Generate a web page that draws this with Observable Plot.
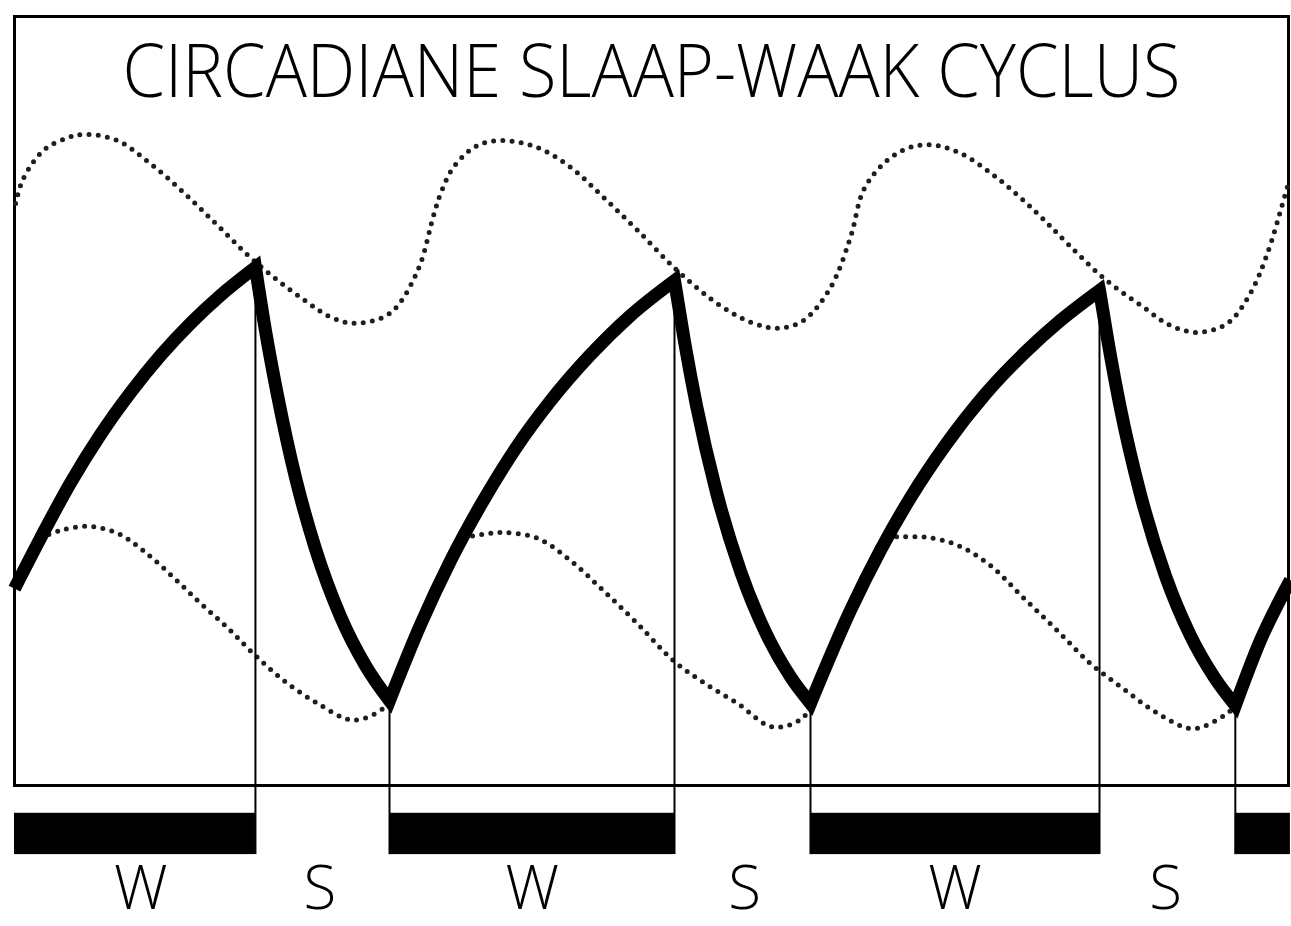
<!DOCTYPE html>
<html><head><meta charset="utf-8">
<script src="https://cdn.jsdelivr.net/npm/d3@7"></script>
<script src="https://cdn.jsdelivr.net/npm/@observablehq/plot@0.6"></script>
<style>html,body{margin:0;padding:0;background:#fff;} svg{display:block;}</style>
</head><body><div id="chart"></div>
<script>
const TITLE = "CIRCADIANE SLAAP-WAAK CYCLUS";

// Homeostatic sleep pressure (thick line): time in hours, level in %
const pressureT = [2.5, 3.98, 5.69, 7.40, 9.11, 10.82, 12.53, 14.24, 16.23, 16.80, 17.49, 18.51, 19.65, 21.08, 22.50, 23.87,
  25.63, 27.35, 29.06, 31.05, 33.04, 35.32, 37.60, 40.11, 40.68, 41.36, 42.50, 43.87, 45.29, 46.72, 47.86,
  50.14, 51.85, 53.56, 55.55, 57.83, 60.11, 62.10, 64.33, 64.84, 65.52, 66.66, 68.09, 69.51, 70.88, 72.07, 73.50, 75.21];
const pressureLevel = [26.7, 33.9, 41.8, 48.7, 54.7, 60.0, 64.6, 68.6, 72.6, 63.6, 54.3, 42.6, 32.4, 22.7, 15.7, 10.7,
  21.5, 30.7, 38.6, 46.7, 53.5, 60.1, 65.7, 70.7, 62.0, 52.9, 40.5, 29.2, 20.5, 14.1, 10.3,
  23.6, 32.2, 39.7, 47.2, 54.5, 60.5, 65.0, 69.3, 61.6, 52.5, 40.2, 28.5, 20.0, 14.0, 10.0, 19.3, 27.9];

// Upper circadian threshold (dotted)
const upperT = [2.56, 3.01, 4.15, 5.52, 6.55, 8.37, 10.25, 12.13, 14.07, 16.12, 18.80, 20.68, 22.05, 23.93,
  25.47, 26.38, 26.78, 27.52, 28.88, 30.37, 32.30, 34.18, 36.06, 38.00, 40.28, 42.73, 44.61, 45.98, 47.46,
  49.00, 50.14, 50.88, 52.02, 53.39, 54.70, 56.40, 58.68, 60.79, 62.50, 64.55, 66.83, 68.37, 69.91, 71.62,
  72.93, 73.90, 74.81, 75.10];
const upperLevel = [81.7, 85.3, 89.3, 91.1, 91.6, 90.7, 87.4, 83.3, 78.6, 73.6, 68.3, 65.3, 64.6, 66.1,
  72.1, 80.0, 83.1, 86.9, 90.0, 90.7, 89.7, 86.9, 82.6, 77.9, 72.1, 67.1, 64.6, 63.9, 65.0,
  69.7, 76.9, 83.6, 87.4, 89.6, 90.1, 88.9, 85.0, 80.3, 76.0, 71.1, 66.9, 64.3, 63.3, 64.6,
  68.9, 74.6, 82.1, 84.6];

// Lower circadian threshold (dotted, drawn in three pieces)
const lowerT = [3.98, 5.12, 6.66, 8.37, 9.85, 11.56, 13.10, 14.64, 16.12, 17.83, 19.77, 21.82, 23.53, 23.87,
  28.09, 29.06, 30.37, 32.30, 34.18, 36.06, 38.00, 40.05, 41.76, 43.70, 45.75, 47.46, 47.86,
  52.24, 53.16, 54.53, 56.24, 58.11, 59.99, 61.93, 63.81, 65.69, 67.63, 69.68, 71.62, 72.07];
const lowerLevel = [33.9, 35.0, 35.6, 34.6, 32.1, 28.3, 24.6, 21.1, 17.4, 13.6, 10.3, 7.9, 9.6, 10.7,
  34.0, 34.4, 34.7, 33.9, 30.7, 26.4, 21.7, 16.4, 13.3, 10.3, 6.9, 8.3, 10.3,
  34.1, 34.1, 34.0, 32.9, 30.0, 25.4, 20.7, 16.0, 12.4, 8.9, 6.7, 8.9, 10.0];
const lowerSeg = [1,1,1,1,1,1,1,1,1,1,1,1,1,1, 2,2,2,2,2,2,2,2,2,2,2,2,2, 3,3,3,3,3,3,3,3,3,3,3,3,3];

// Sleep onset / wake onset times (hours)
const sleepOnset = [16.23, 40.11, 64.33];
const wakeOnset = [23.87, 47.86, 72.07];

// W / S labels
const labelT = [9.7, 19.9, 32.0, 44.1, 56.1, 68.1];
const labelText = ["W", "S", "W", "S", "W", "S"];

// ---- build tables ----
const T0 = 2.5, T1 = 75.1, TEND = 75.21;
const pressure = pressureT.map((t, i) => ({t, v: pressureLevel[i]}));
const upper = upperT.map((t, i) => ({t, v: upperLevel[i]}));
const lower = lowerT.map((t, i) => ({t, v: lowerLevel[i], seg: lowerSeg[i]}));
const lookup = t => pressure.find(d => Math.abs(d.t - t) < 1e-6).v;
const switches = [...sleepOnset, ...wakeOnset].sort((a, b) => a - b).map(t => ({t, top: lookup(t)}));
const wakeBars = [[T0, sleepOnset[0]], [wakeOnset[0], sleepOnset[1]], [wakeOnset[1], sleepOnset[2]], [wakeOnset[2], TEND]]
  .map(([a, b]) => ({a, b}));
const labels = labelT.map((t, i) => ({t, label: labelText[i]}));

const BAND_TOP = -5.4, BAND_BOTTOM = -11.3;
const FONT = "'Open Sans', Lato, sans-serif";

// smooth cubic curve that keeps sharp corners at local extrema (peaks / troughs)
function cornerCurve(context) {
  let pts;
  const run = (r) => {
    const n = r.length;
    if (n === 2) { context.lineTo(r[1][0], r[1][1]); return; }
    const h = [], s = [];
    for (let i = 0; i < n - 1; ++i) { h[i] = r[i + 1][0] - r[i][0]; s[i] = (r[i + 1][1] - r[i][1]) / h[i]; }
    const m = new Array(n);
    for (let i = 1; i < n - 1; ++i) m[i] = (s[i - 1] * h[i] + s[i] * h[i - 1]) / (h[i - 1] + h[i]);
    m[0] = (3 * s[0] - m[1]) / 2;
    m[n - 1] = (3 * s[n - 2] - m[n - 2]) / 2;
    if (m[0] * s[0] < 0) m[0] = 0;
    if (m[n - 1] * s[n - 2] < 0) m[n - 1] = 0;
    for (let i = 0; i < n - 1; ++i) {
      const dx = h[i] / 3;
      context.bezierCurveTo(r[i][0] + dx, r[i][1] + m[i] * dx, r[i + 1][0] - dx, r[i + 1][1] - m[i + 1] * dx, r[i + 1][0], r[i + 1][1]);
    }
  };
  return {
    areaStart() {}, areaEnd() {},
    lineStart() { pts = []; },
    point(x, y) { pts.push([+x, +y]); },
    lineEnd() {
      if (!pts.length) return;
      context.moveTo(pts[0][0], pts[0][1]);
      let cur = [pts[0]];
      for (let i = 1; i < pts.length; ++i) {
        cur.push(pts[i]);
        if (i < pts.length - 1) {
          const a = pts[i][1] - pts[i - 1][1], b = pts[i + 1][1] - pts[i][1];
          if (a * b < 0) { run(cur); cur = [pts[i]]; }
        }
      }
      if (cur.length > 1) run(cur);
    }
  };
}

const dotted = {stroke: "#1e1e1e", strokeWidth: 5, strokeDasharray: "0 9.2", strokeLinecap: "round", curve: "catmull-rom"};

const svg = Plot.plot({
  width: 1291,
  height: 926,
  marginLeft: 14, marginRight: 3, marginTop: 16, marginBottom: 141,
  x: {domain: [T0, T1], range: [14, 1288], axis: null},
  y: {domain: [0, 100], range: [775, 75], axis: null},
  style: {background: "white", overflow: "visible"},
  marks: [
    Plot.frame({stroke: "black", strokeWidth: 3}),
    Plot.text([TITLE], {text: d => d, frameAnchor: "top", dy: 57, lineAnchor: "middle",
      fontSize: 73, fontFamily: FONT, fontWeight: 300, fill: "black"}),
    Plot.line(upper, {x: "t", y: "v", ...dotted}),
    Plot.line(lower, {x: "t", y: "v", z: "seg", ...dotted}),
    Plot.ruleX(switches, {x: "t", y1: "top", y2: () => BAND_BOTTOM, stroke: "black", strokeWidth: 2}),
    Plot.line(pressure, {x: "t", y: "v", curve: cornerCurve, stroke: "black", strokeWidth: 13,
      strokeLinejoin: "miter", strokeMiterlimit: 10, strokeLinecap: "butt"}),
    Plot.rect(wakeBars, {x1: "a", x2: "b", y1: () => BAND_BOTTOM, y2: () => BAND_TOP, fill: "black"}),
    Plot.text(labels, {x: "t", text: "label", frameAnchor: "bottom", dy: 104, lineAnchor: "middle",
      fontSize: 60, fontFamily: FONT, fontWeight: 300, fill: "black"})
  ]
});

d3.select(svg).selectAll("text")
  .filter(function() { return this.textContent === TITLE; })
  .attr("textLength", 1058)
  .attr("lengthAdjust", "spacingAndGlyphs");

document.getElementById("chart").appendChild(svg);
</script></body></html>
